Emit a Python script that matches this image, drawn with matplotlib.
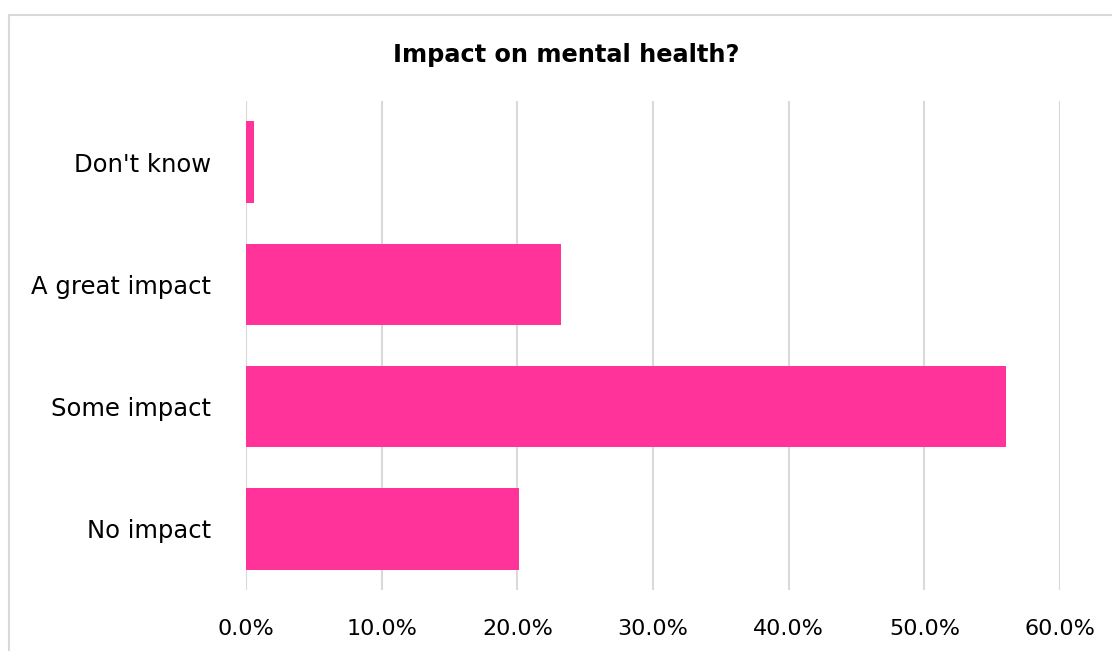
import matplotlib.pyplot as plt
from matplotlib.patches import Rectangle
from matplotlib.ticker import FuncFormatter

# Data
categories = ["No impact", "Some impact", "A great impact", "Don't know"]
shares = [0.201, 0.560, 0.2325, 0.006]
x_ticks = [0.0, 0.1, 0.2, 0.3, 0.4, 0.5, 0.6]

bar_color = "#FF3399"
grid_color = "#D9D9D9"

plt.rcParams["font.family"] = ["DejaVu Sans"]

fig = plt.figure(figsize=(11.12, 6.51), dpi=100)
ax = fig.add_axes([246 / 1112, 1 - 590 / 651, (1060 - 246) / 1112, (590 - 101) / 651])

# chart border (cut off on the right and bottom)
fig.patches.append(Rectangle((8.5 / 1112, -0.1), 1.2, 1 - 14.5 / 651 + 0.1,
                             transform=fig.transFigure, fill=False,
                             edgecolor=grid_color, linewidth=1.5))

ax.barh(range(len(categories)), shares, height=0.667, color=bar_color, zorder=3)

ax.set_xlim(0, 0.6)
ax.set_ylim(-0.5, len(categories) - 0.5)
ax.set_xticks(x_ticks)
ax.xaxis.set_major_formatter(FuncFormatter(lambda v, p: f"{v * 100:.1f}%"))
ax.set_yticks(range(len(categories)))
ax.set_yticklabels(categories)

ax.grid(axis="x", color=grid_color, linewidth=1.5, zorder=0)
for s in ax.spines.values():
    s.set_visible(False)
ax.tick_params(axis="both", length=0, colors="black")
ax.tick_params(axis="x", labelsize=16, pad=21)
ax.tick_params(axis="y", labelsize=17.5, pad=25)

fig.text(566 / 1112, 1 - 55 / 651, "Impact on mental health?", ha="center",
         va="center", fontsize=17.3, fontweight="bold")

fig.savefig("out.png", dpi=100)
